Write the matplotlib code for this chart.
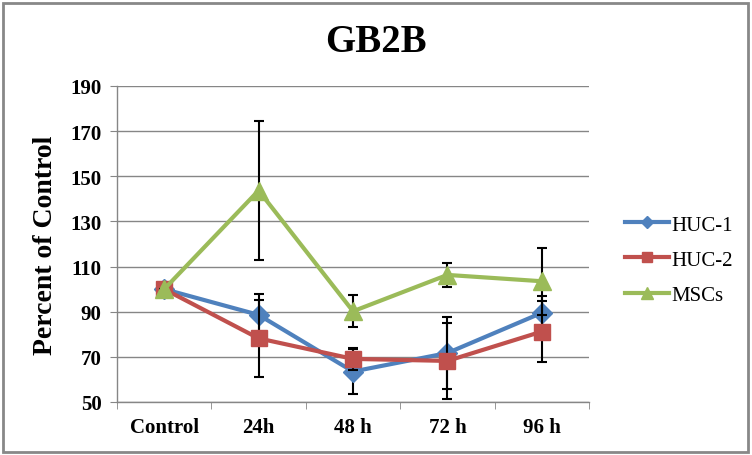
import numpy as np
import matplotlib.pyplot as plt
from matplotlib.patches import Rectangle

plt.rcParams['font.family'] = ['Liberation Serif', 'DejaVu Serif']

categories = ["Control", "24h", "48 h", "72 h", "96 h"]
series_names = ["HUC-1", "HUC-2", "MSCs"]
huc1 = [100, 88.6, 63.5, 71.7, 89.5]
huc1_err = [0, 9.3, 10, 16, 7.4]
huc2 = [100, 78.2, 69.1, 68.2, 81.2]
huc2_err = [0, 17, 5, 17, 13.5]
mscs = [100, 143.7, 90.2, 106.3, 103.5]
mscs_err = [0, 31, 7, 5.5, 14.8]
y_ticks = [50, 70, 90, 110, 130, 150, 170, 190]

colors = ["#4F81BD", "#C0504D", "#9BBB59"]
markers = ["D", "s", "^"]
msizes = [10, 12, 13]

fig = plt.figure(figsize=(7.52, 4.56), dpi=100)
ax = fig.add_axes([117 / 752, 1 - 403 / 456, (589 - 117) / 752, (403 - 87) / 456])

x = np.arange(len(categories))
for i, (vals, errs) in enumerate([(huc1, huc1_err), (huc2, huc2_err), (mscs, mscs_err)]):
    ax.errorbar(x, vals, yerr=errs, fmt="none", ecolor="black", elinewidth=1.5,
                capsize=3.5, capthick=1.5, zorder=3 + i * 2)
    ax.plot(x, vals, color=colors[i], lw=3, marker=markers[i], markersize=msizes[i],
            label=series_names[i], zorder=4 + i * 2)

ax.set_xlim(-0.5, len(categories) - 0.5)
ax.set_ylim(50, 190)
ax.set_yticks(y_ticks)
ax.set_xticks(x)
ax.set_xticklabels(categories)
ax.set_xticks(np.arange(len(categories) + 1) - 0.5, minor=True)
ax.tick_params(axis="x", which="major", length=0, pad=11)
ax.tick_params(axis="x", which="minor", length=5, color="#868686", direction="out")
ax.tick_params(axis="y", length=5, color="#868686", direction="out", pad=6)
for lab in ax.get_xticklabels() + ax.get_yticklabels():
    lab.set_fontweight("bold")
    lab.set_fontsize(15)

ax.yaxis.grid(True, color="#868686", lw=1)
ax.set_axisbelow(True)
for s in ["top", "right"]:
    ax.spines[s].set_visible(False)
for s in ["left", "bottom"]:
    ax.spines[s].set_color("#868686")
    ax.spines[s].set_linewidth(1)

fig.text(46 / 752, 1 - 245 / 456, "Percent of Control", rotation=90, ha="center", va="center",
         fontsize=20, fontweight="bold")
fig.text(0.5, 1 - 43 / 456, "GB2B", ha="center", va="center", fontsize=28, fontweight="bold")

ax.legend(loc="center left", bbox_to_anchor=(606 / 752, 1 - 261 / 456),
          bbox_transform=fig.transFigure, frameon=False, fontsize=15,
          handlelength=2.1, labelspacing=0.75, handletextpad=0.15, markerscale=0.65)

fig.patches.append(Rectangle((3 / 752, 3 / 456), 745 / 752, 449 / 456, transform=fig.transFigure,
                             fill=False, edgecolor="#888888", lw=2))

fig.savefig("out.png", dpi=100)
